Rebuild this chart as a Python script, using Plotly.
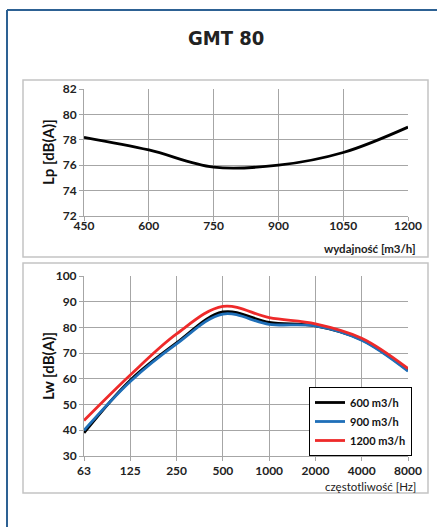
import plotly.graph_objects as go

W, H = 437, 527

# Top chart data
flow = [450, 600, 750, 900, 1050, 1200]
lp = [78.2, 77.2, 75.85, 76.0, 77.0, 79.0]

# Bottom chart data
freq = ["63", "125", "250", "500", "1000", "2000", "4000", "8000"]
lw_600 = [39.0, 59.5, 74.0, 86.0, 82.0, 80.6, 75.2, 63.3]
lw_900 = [40.0, 59.0, 73.6, 85.2, 81.2, 80.6, 75.0, 63.0]
lw_1200 = [43.8, 61.5, 77.5, 88.2, 83.8, 81.4, 75.8, 64.0]

series = [
    ("600 m3/h", lw_600, "#000000"),
    ("900 m3/h", lw_900, "#1f6fb8"),
    ("1200 m3/h", lw_1200, "#ee2a2a"),
]

def px(x):
    return x / W

def py(y):
    return 1 - y / H

FONT = "Lato, 'Open Sans', Arial, sans-serif"
TICKF = dict(family=FONT, size=12, color="#222222", weight="bold")

fig = go.Figure()

fig.add_trace(go.Scatter(x=flow, y=lp, mode="lines", line=dict(color="#000000", width=2.8, shape="spline", smoothing=1.0),
                         xaxis="x", yaxis="y", showlegend=False))

for name, vals, col in series:
    fig.add_trace(go.Scatter(x=freq, y=vals, mode="lines", name=name,
                             line=dict(color=col, width=2.8, shape="spline", smoothing=1.0),
                             xaxis="x2", yaxis="y2"))

grid = "#a6a6a6"
axcommon = dict(showgrid=True, gridcolor=grid, gridwidth=1, zeroline=False, showline=True, linecolor=grid, linewidth=1,
                ticks="outside", ticklen=4, tickcolor=grid, tickfont=TICKF, mirror=False, automargin=False)

xd = [px(84), px(408)]
fig.update_layout(
    width=W, height=H,
    margin=dict(l=0, r=0, t=0, b=0, autoexpand=False),
    paper_bgcolor="white", plot_bgcolor="white",
    xaxis=dict(domain=xd, anchor="y", range=[450, 1200], tickvals=[450, 600, 750, 900, 1050, 1200],
               ticklabelstandoff=-5, **axcommon),
    yaxis=dict(domain=[py(216), py(89)], anchor="x", range=[72, 82], tickvals=[72, 74, 76, 78, 80, 82], **axcommon),
    xaxis2=dict(domain=xd, anchor="y2", type="category", categoryorder="array", categoryarray=freq,
                range=[0, 7], **axcommon),
    yaxis2=dict(domain=[py(456), py(276)], anchor="x2", range=[30, 100], tickvals=list(range(30, 101, 10)), **axcommon),
    legend=dict(x=px(309), y=py(387), xanchor="left", yanchor="top", bgcolor="white",
                bordercolor="#000000", borderwidth=1,
                font=dict(family=FONT, size=11, color="#111111", weight="bold"),
                tracegroupgap=0, itemwidth=30),
    showlegend=True,
)

shapes = [
    # outer blue frame
    dict(type="line", xref="paper", yref="paper", x0=px(7), x1=px(7), y0=py(10), y1=py(527), line=dict(color="#2d6193", width=2)),
    dict(type="line", xref="paper", yref="paper", x0=px(7), x1=px(437), y0=py(10), y1=py(10), line=dict(color="#2d6193", width=2)),
    # chart boxes
    dict(type="rect", xref="paper", yref="paper", x0=px(23), x1=px(428), y0=py(257), y1=py(80), line=dict(color="#c4c4c4", width=1.5)),
    dict(type="rect", xref="paper", yref="paper", x0=px(23), x1=px(428), y0=py(493), y1=py(263), line=dict(color="#c4c4c4", width=1.5)),
]
fig.update_layout(shapes=shapes)

annotations = [
    dict(text='<span style="font-stretch:condensed">GMT 80</span>', x=px(226), y=py(38), xref="paper", yref="paper",
         showarrow=False, xanchor="center", yanchor="middle",
         font=dict(family="'DejaVu Sans', sans-serif", size=20, color="#222222", weight="bold")),
    dict(text="<b>Lp [dB(A)]</b>", x=px(48), y=py(152), xref="paper", yref="paper", showarrow=False, textangle=-90,
         xanchor="center", yanchor="middle", font=dict(family=FONT, size=15, color="#111111")),
    dict(text="<b>Lw [dB(A)]</b>", x=px(48), y=py(366), xref="paper", yref="paper", showarrow=False, textangle=-90,
         xanchor="center", yanchor="middle", font=dict(family=FONT, size=15, color="#111111")),
    dict(text="<b>wydajność [m3/h]</b>", x=px(418), y=py(248), xref="paper", yref="paper", showarrow=False,
         xanchor="right", yanchor="middle", font=dict(family=FONT, size=11.5, color="#222222")),
    dict(text="częstotliwość [Hz]", x=px(418), y=py(486), xref="paper", yref="paper", showarrow=False,
         xanchor="right", yanchor="middle", font=dict(family=FONT, size=11.5, color="#222222")),
]
fig.update_layout(annotations=annotations)

fig.write_html("out.html")
